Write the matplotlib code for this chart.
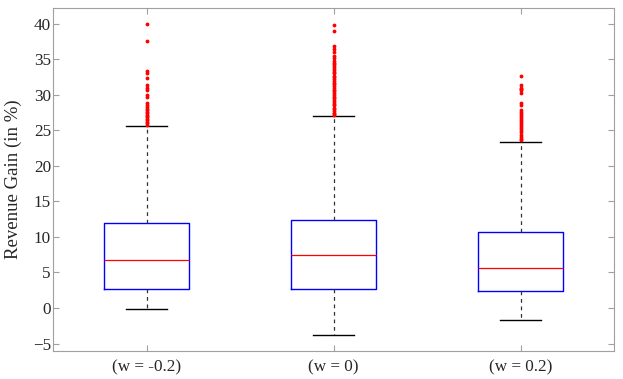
import matplotlib
matplotlib.use('Agg')
import matplotlib.pyplot as plt

# Box statistics (values in %)
labels = ["(w = -0.2)", "(w = 0)", "(w = 0.2)"]
medians = [6.8, 7.4, 5.7]
q1 = [2.65, 2.65, 2.4]
q3 = [11.9, 12.4, 10.7]
whisker_lo = [-0.15, -3.8, -1.7]
whisker_hi = [25.6, 27.0, 23.3]

outliers_a = [39.9, 37.6, 33.3, 33.1, 32.4, 31.3, 31.0, 30.7, 29.9, 29.7,
              28.8, 28.5, 28.3, 28.0, 27.8, 27.6, 27.4, 27.2, 27.0, 26.8,
              26.6, 26.4, 26.2, 26.0, 25.8]
outliers_b = [39.8, 38.9, 36.9, 36.5, 36.0, 35.5, 35.1, 34.8, 34.5, 34.3,
              34.0, 33.8, 33.5, 33.2, 33.0, 32.7, 32.5, 32.2, 32.0, 31.7,
              31.5, 31.2, 31.0, 30.7, 30.5, 30.2, 30.0, 29.7, 29.5, 29.2,
              29.0, 28.7, 28.5, 28.2, 28.0, 27.7, 27.5, 27.3, 27.1]
outliers_c = [32.6, 31.3, 31.0, 30.8, 30.6, 30.2, 28.8, 28.6, 27.8, 27.6,
              27.3, 27.0, 26.7, 26.4, 26.2, 25.9, 25.6, 25.3, 25.0, 24.7,
              24.4, 24.1, 23.8, 23.6]
outliers = [outliers_a, outliers_b, outliers_c]

plt.rcParams['font.family'] = ['Liberation Serif', 'DejaVu Serif']

stats = []
for i in range(len(labels)):
    stats.append({
        "med": medians[i], "q1": q1[i], "q3": q3[i],
        "whislo": whisker_lo[i], "whishi": whisker_hi[i],
        "fliers": outliers[i], "label": labels[i],
    })

fig = plt.figure(figsize=(6.23, 3.79), dpi=100)
ax = fig.add_axes([53 / 623, 1 - 350.7 / 379, (614 - 53) / 623, (350.7 - 8) / 379])

ax.bxp(stats, positions=[1, 2, 3], widths=0.45,
       boxprops=dict(color="blue", linewidth=1.0),
       medianprops=dict(color="red", linewidth=0.9),
       whiskerprops=dict(color="#333333", linestyle=(0, (3, 3)), linewidth=0.9),
       capprops=dict(color="black", linewidth=1.0),
       flierprops=dict(marker=".", markersize=3.5, markerfacecolor="red",
                       markeredgecolor="red", linestyle="none"),
       capwidths=0.22)

ax.set_xlim(0.5, 3.5)
ax.set_ylim(-6, 42.2)
ax.set_yticks(range(-5, 41, 5))
ax.set_ylabel("Revenue Gain (in %)", fontsize=13.5, color="#262626")
ax.yaxis.set_label_coords(-0.056, 0.5)

for side in ax.spines.values():
    side.set_color("#a0a0a0")
    side.set_linewidth(0.8)
ax.tick_params(direction="in", top=True, right=True, color="#a0a0a0",
               labelcolor="#262626", length=4, labelsize=12.3)
ax.tick_params(axis="x", pad=6)
ax.tick_params(axis="y", pad=1.5)

fig.savefig("out.png", dpi=100)
